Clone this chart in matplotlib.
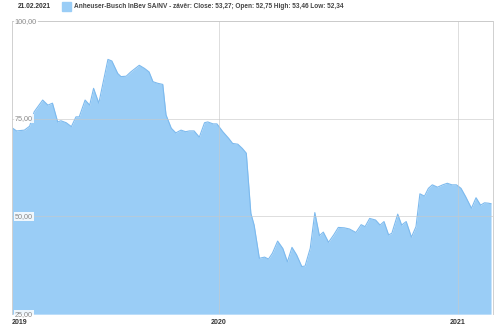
import numpy as np
import pandas as pd
import matplotlib
matplotlib.use("Agg")
import matplotlib.pyplot as plt
import matplotlib.transforms as mtransforms

# weekly-ish closes
dates = ["2019-02-18", "2019-02-25", "2019-03-09", "2019-03-17", "2019-03-24",
         "2019-04-06", "2019-04-14", "2019-04-21", "2019-04-29", "2019-05-04",
         "2019-05-12", "2019-05-20", "2019-05-27", "2019-06-01", "2019-06-10",
         "2019-06-17", "2019-06-23", "2019-07-01", "2019-07-15", "2019-07-21",
         "2019-07-30", "2019-08-04", "2019-08-12", "2019-08-19", "2019-09-01",
         "2019-09-09", "2019-09-16", "2019-09-22", "2019-09-29", "2019-10-07",
         "2019-10-12", "2019-10-20", "2019-10-27", "2019-11-04", "2019-11-11",
         "2019-11-17", "2019-11-24", "2019-12-02", "2019-12-10", "2019-12-15",
         "2019-12-23", "2019-12-29", "2020-01-07", "2020-01-16", "2020-01-22",
         "2020-01-30", "2020-02-06", "2020-02-12", "2020-02-19", "2020-02-24",
         "2020-03-03", "2020-03-11", "2020-03-17", "2020-03-23", "2020-03-31",
         "2020-04-08", "2020-04-15", "2020-04-22", "2020-04-29", "2020-05-07",
         "2020-05-12", "2020-05-20", "2020-05-27", "2020-06-03", "2020-06-09",
         "2020-06-17", "2020-06-25", "2020-07-02", "2020-07-11", "2020-07-19",
         "2020-07-29", "2020-08-06", "2020-08-12", "2020-08-19", "2020-08-28",
         "2020-09-04", "2020-09-10", "2020-09-17", "2020-09-22", "2020-10-01",
         "2020-10-07", "2020-10-14", "2020-10-22", "2020-10-29", "2020-11-04",
         "2020-11-11", "2020-11-17", "2020-11-23", "2020-12-01", "2020-12-09",
         "2020-12-16", "2020-12-23", "2020-12-30", "2021-01-06", "2021-01-13",
         "2021-01-22", "2021-01-29", "2021-02-05", "2021-02-11", "2021-02-17",
         "2021-02-21"]
close = [72.7, 71.9, 72.1, 73.1, 76.8,
         79.8, 78.5, 79.0, 74.2, 74.5,
         74.0, 73.0, 75.5, 75.5, 79.8,
         78.5, 82.8, 79.0, 90.2, 89.8,
         86.6, 85.8, 85.9, 87.0, 88.7,
         87.9, 87.0, 84.5, 84.1, 83.8,
         76.0, 72.6, 71.4, 72.1, 71.7,
         71.9, 71.9, 70.3, 74.0, 74.2,
         73.7, 73.7, 71.7, 70.0, 68.7,
         68.5, 67.4, 66.2, 50.8, 47.8,
         39.3, 39.6, 39.1, 40.6, 43.7,
         41.8, 38.4, 42.1, 40.2, 37.2,
         37.3, 41.9, 51.0, 45.1, 46.0,
         43.4, 45.3, 47.2, 47.1, 46.8,
         45.9, 47.9, 47.4, 49.5, 49.1,
         47.8, 48.7, 45.3, 45.7, 50.6,
         47.8, 48.7, 44.7, 47.4, 55.8,
         55.2, 57.2, 58.1, 57.5, 58.1,
         58.5, 58.1, 58.1, 57.2, 55.1,
         52.1, 54.8, 52.9, 53.5, 53.4,
         53.27]

y_ticks = [25, 50, 75, 100]
y_labels = ["25,00", "50,00", "75,00", "100,00"]
year_ticks = ["2019-02-18", "2020-01-01", "2021-01-01"]
year_labels = ["2019", "2020", "2021"]

header_date = "21.02.2021"
legend_text = ("Anheuser-Busch InBev SA/NV - závěr: Close: 53,27; "
               "Open: 52,75 High: 53,46 Low: 52,34")

plt.rcParams['font.family'] = ['Liberation Sans', 'DejaVu Sans']

x = pd.to_datetime(dates)

fig = plt.figure(figsize=(5, 3.3), dpi=100)
ax = fig.add_axes([0.024, 0.048, 0.962, 0.888])

fill_c = '#9ACDF6'
line_c = '#7DBAEE'
ax.fill_between(x, close, 25, color=fill_c, lw=0, zorder=1)
ax.plot(x, close, color=line_c, lw=0.8, zorder=2)

ax.set_ylim(25, 100)
ax.set_xlim(x[0], pd.Timestamp("2021-02-24"))

# grid drawn over the area, as in the original
for v in y_ticks[1:]:
    ax.axhline(v, color='#c8c8c8', lw=0.7, alpha=0.6, zorder=3)
for d in year_ticks[1:]:
    ax.axvline(pd.Timestamp(d), color='#c8c8c8', lw=0.7, alpha=0.6, zorder=3)

for s in ax.spines.values():
    s.set_color('#d0d0d0')
    s.set_linewidth(0.7)
ax.spines['bottom'].set_visible(False)

ax.set_xticks([])
ax.set_yticks([])

trans = mtransforms.blended_transform_factory(ax.transAxes, ax.transData)
for v, lab in zip(y_ticks, y_labels):
    ax.text(0.006, v, lab, transform=trans, ha='left', va='center',
            fontsize=5.2, color='#888888', zorder=4,
            bbox=dict(boxstyle='square,pad=0.15', fc='white', ec='none', alpha=0.85))

ytr = mtransforms.blended_transform_factory(ax.transData, ax.transAxes)
for i, (d, lab) in enumerate(zip(year_ticks, year_labels)):
    ax.text(pd.Timestamp(d), -0.015, lab, transform=ytr,
            ha='left' if i == 0 else 'center', va='top',
            fontsize=5, fontweight='bold', color='#333333')

fig.text(0.036, 0.980, header_date, ha='left', va='center',
         fontsize=4.8, fontweight='bold', color='#333333')
fig.patches.append(plt.Rectangle((0.124, 0.966), 0.017, 0.027,
                                 transform=fig.transFigure, color=fill_c))
fig.text(0.148, 0.980, legend_text, ha='left', va='center',
         fontsize=4.7, fontweight='bold', color='#444444')

fig.savefig('out.png', dpi=100)
